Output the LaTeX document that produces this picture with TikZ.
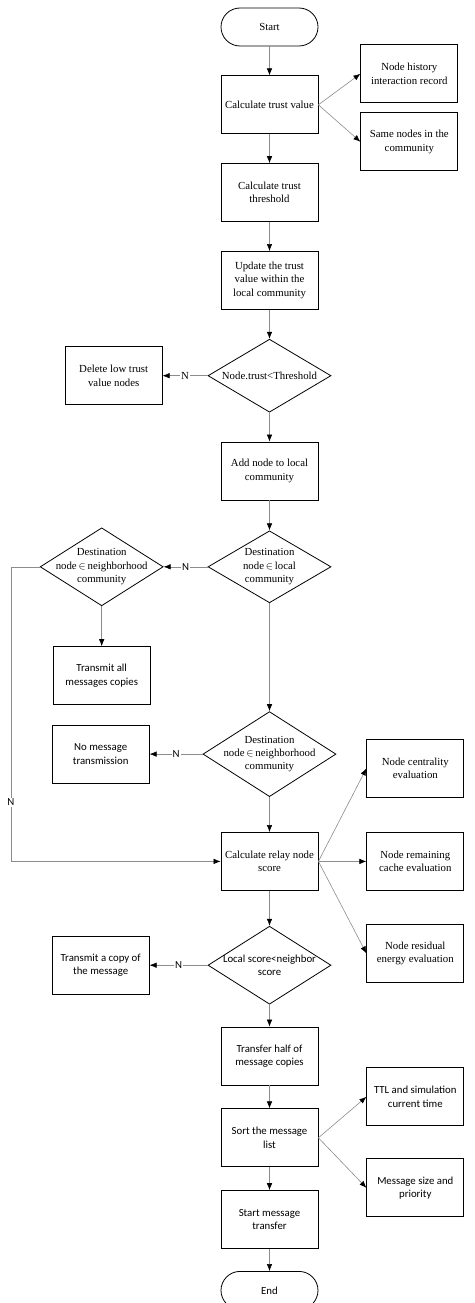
\documentclass[tikz,border=0pt]{standalone}
\usepackage{fontspec}
\setmainfont{Liberation Serif}
\newfontfamily\calfont{Carlito}
\usepackage{tikz}
\usetikzlibrary{positioning,shapes.geometric,arrows.meta}

\begin{document}
\begin{tikzpicture}[
        x=1pt, y=1pt,
        txt/.style={font=\fontsize{10.8pt}{13.3pt}\selectfont},
        cal/.style={font=\calfont\fontsize{10.8pt}{13.3pt}\selectfont},
        box/.style={draw, line width=0.8pt, minimum width=97pt, minimum height=58pt, inner sep=0pt, align=center, txt},
        term/.style={draw, line width=0.8pt, rounded corners=19pt, minimum width=97pt, minimum height=38pt, inner sep=0pt, align=center, txt},
        dec/.style={diamond, draw, line width=0.8pt, aspect=1.6, inner sep=-10pt, minimum width=123pt, minimum height=73pt, align=center, txt},
        arr/.style={draw=black!45, line width=0.6pt, -{Latex[black, length=7pt, width=5.5pt]}},
        lab/.style={fill=white, inner sep=1pt, cal}
    ]
        \useasboundingbox (0,0) rectangle (474,-1303);
        \node[term] (start) at (269.5,-27) {Start};
        \node[box, below=29pt of start] (tv) {Calculate trust value};
        \node[box, right=42pt of tv, yshift=31pt] (hist) {Node history\\interaction record};
        \node[box, right=42pt of tv, yshift=-37pt] (same) {Same nodes in the\\community};
        \node[box, below=29pt of tv] (thr) {Calculate trust\\threshold};
        \node[box, below=29pt of thr] (upd) {Update the trust\\value within the\\local community};
        \node[dec, below=29pt of upd] (chk) {Node.trust<Threshold};
        \node[box, left=45pt of chk] (del) {Delete low trust\\value nodes};
        \node[box, below=29pt of chk] (add) {Add node to local\\community};
        \node[dec, below=30pt of add, minimum height=72pt] (inloc) {Destination\\node\,$\in$\,local\\community};
        \node[dec, left=44pt of inloc, minimum height=78pt] (innb) {Destination\\node\,$\in$\,neighborhood\\community};
        \node[box, cal, below=40pt of innb] (all) {Transmit all\\messages copies};
        \node[dec, below=108pt of inloc, minimum width=133pt, minimum height=85pt] (innb2) {Destination\\node\,$\in$\,neighborhood\\community};
        \node[box, cal, left=53pt of innb2] (nomsg) {No message\\transmission};
        \node[box, below=35pt of innb2] (relay) {Calculate relay node\\score};
        \node[box, right=48pt of relay, yshift=93pt] (cen) {Node centrality\\evaluation};
        \node[box, right=48pt of relay] (cache) {Node remaining\\cache evaluation};
        \node[box, right=48pt of relay, yshift=-92pt] (res) {Node residual\\energy evaluation};
        \node[dec, cal, below=35pt of relay, minimum height=78pt] (cmp) {Local score<neighbor\\score};
        \node[box, cal, left=58pt of cmp] (copy) {Transmit a copy of\\the message};
        \node[box, cal, below=22pt of cmp] (half) {Transfer half of\\message copies};
        \node[box, cal, below=23pt of half] (sort) {Sort the message\\list};
        \node[box, cal, right=48pt of sort, yshift=41pt] (ttl) {TTL and simulation\\current time};
        \node[box, cal, right=48pt of sort, yshift=-50pt] (size) {Message size and\\priority};
        \node[box, cal, below=23pt of sort] (go) {Start message\\transfer};
        \node[term, cal, below=22pt of go] (stop) {End};
        \coordinate (lp) at ([xshift=-29pt]innb.west);

        \draw[arr] (start) -- (tv);
        \draw[arr] (tv.east) -- (hist.west);
        \draw[arr] (tv.east) -- (same.west);
        \draw[arr] (tv) -- (thr);
        \draw[arr] (thr) -- (upd);
        \draw[arr] (upd) -- (chk);
        \draw[arr] (chk) -- node[lab, txt]{N} (del);
        \draw[arr] (chk) -- (add);
        \draw[arr] (add) -- (inloc);
        \draw[arr] (inloc) -- node[lab]{N} (innb);
        \draw[arr] (innb) -- (all);
        \draw[arr] (inloc) -- (innb2);
        \draw[arr] (innb2) -- node[lab]{N} (nomsg);
        \draw[arr] (innb2) -- (relay);
        \draw[arr] (innb.west) -- (lp) |- node[pos=0.4, lab]{N} (relay.west);
        \draw[arr] (relay.east) -- (cen.west);
        \draw[arr] (relay.east) -- (cache.west);
        \draw[arr] (relay.east) -- (res.west);
        \draw[arr] (relay) -- (cmp);
        \draw[arr] (cmp) -- node[lab]{N} (copy);
        \draw[arr] (cmp) -- (half);
        \draw[arr] (half) -- (sort);
        \draw[arr] (sort.east) -- (ttl.west);
        \draw[arr] (sort.east) -- (size.west);
        \draw[arr] (sort) -- (go);
        \draw[arr] (go) -- (stop);
    \end{tikzpicture}
\end{document}
